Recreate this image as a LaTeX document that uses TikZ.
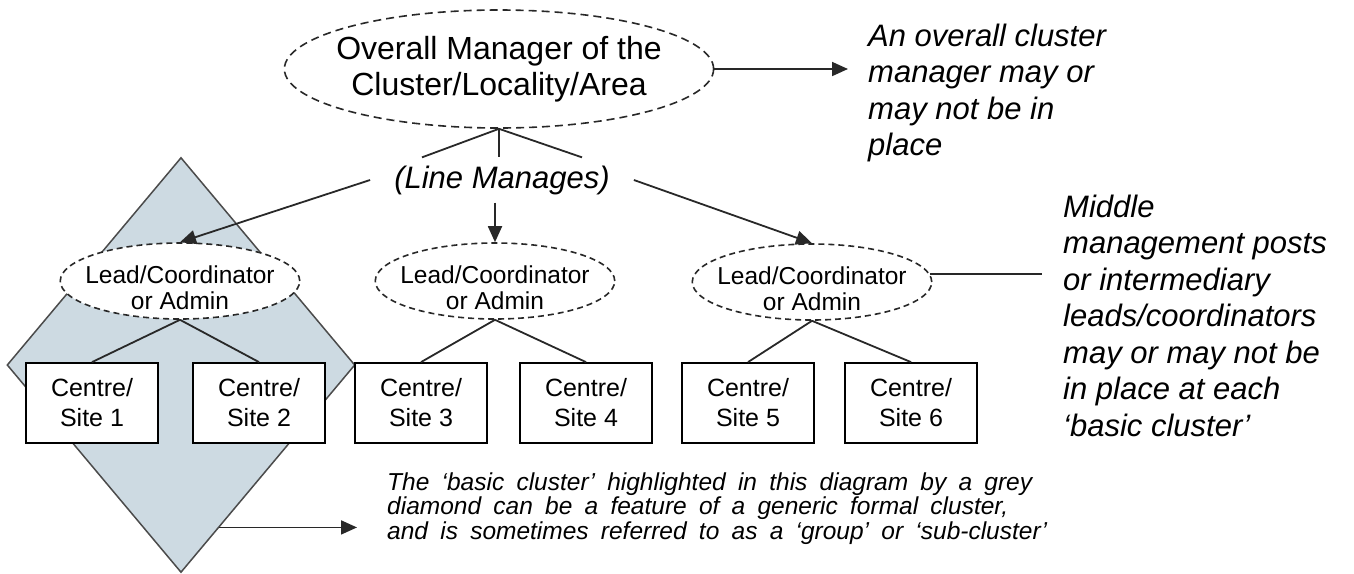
\documentclass[tikz,border=0pt]{standalone}
\usepackage{fontspec}
\setmainfont{Liberation Sans}
\newfontfamily\widenotefont[WordSpace=1.8]{Liberation Sans}
\usetikzlibrary{shapes.geometric,arrows.meta,calc}
\definecolor{clusterfill}{RGB}{205,218,226}
\definecolor{inkline}{RGB}{40,40,40}
\definecolor{diamondline}{RGB}{75,75,75}
% first-line strut that lowers the lead labels inside their ellipses
\newcommand{\leadstrut}{\rule{0pt}{32pt}}

\begin{document}
\begin{tikzpicture}[x=1pt,y=-1pt,
  manager/.style={ellipse, draw=inkline, fill=white, line width=1.6pt,
    dash pattern=on 8pt off 5pt, align=center},
  topmanager/.style={manager, inner xsep=-11pt, inner ysep=4pt,
    minimum width=428pt, minimum height=118pt,
    font=\fontsize{32}{36}\selectfont},
  leadmanager/.style={manager, dash pattern=on 6pt off 4pt,
    inner xsep=-10pt, inner ysep=-3pt,
    minimum width=238pt, minimum height=76pt,
    font=\fontsize{24.5}{26}\selectfont},
  sitebox/.style={draw=black, fill=white, line width=1.8pt, minimum width=132pt,
    minimum height=80pt, inner sep=0pt, align=center,
    font=\fontsize{25}{30}\selectfont},
  link/.style={draw=inkline, line width=1.8pt},
  arrowlink/.style={link, -{Triangle[length=16pt,width=14pt]}},
  note/.style={anchor=north west, inner sep=0pt, align=left,
    font=\fontsize{31}{36.5}\selectfont\itshape},
  smallnote/.style={anchor=north west, inner sep=0pt, align=left,
    font=\widenotefont\fontsize{24.5}{24.5}\selectfont\itshape}
]
\useasboundingbox (0,0) rectangle (1354,573);

% grey diamond marking one basic cluster
\node[diamond, draw=diamondline, fill=clusterfill, line width=1.5pt,
  minimum width=348pt, minimum height=415pt, inner sep=0pt] (cluster) at (181,365) {};

% overall manager and its label
\node[topmanager] (top) at (499,69) {Overall Manager of the\\Cluster/Locality/Area};
\node[inner xsep=24pt, inner ysep=8pt, font=\fontsize{31}{36}\selectfont\itshape]
  (lm) at (502,180) {(Line Manages)};

% leads / coordinators
\node[leadmanager] (lead1) at (180,281) {\leadstrut Lead/Coordinator\\or Admin};
\node[leadmanager] (lead2) at (495,281) {\leadstrut Lead/Coordinator\\or Admin};
\node[leadmanager] (lead3) at (812,282) {\leadstrut Lead/Coordinator\\or Admin};

% centres / sites
\node[sitebox] (s1) at (92,403)  {Centre/\\Site 1};
\node[sitebox] (s2) at (259,403) {Centre/\\Site 2};
\node[sitebox] (s3) at (421,403) {Centre/\\Site 3};
\node[sitebox] (s4) at (586,403) {Centre/\\Site 4};
\node[sitebox] (s5) at (748,403) {Centre/\\Site 5};
\node[sitebox] (s6) at (911,403) {Centre/\\Site 6};

% explanatory notes
\node[note] (tnote) at (868,23.8) {An overall cluster\\manager may or\\may not be in\\place};
\node[note] (mnote) at (1063,194.8) {Middle\\management posts\\or intermediary\\leads/coordinators\\may or may not be\\in place at each\\‘basic cluster’};
\node[smallnote] (bnote) at (387,472.5) {The ‘basic cluster’ highlighted in this diagram by a grey\\diamond can be a feature of a generic formal cluster,\\and is sometimes referred to as a ‘group’ or ‘sub-cluster’};

% line management links
\draw[link] (top.south) -- ($(lm.north)+(-80,0)$);
\draw[link] (top.south) -- (top.south |- lm.north);
\draw[link] (top.south) -- ($(lm.north)+(80,0)$);
\draw[arrowlink] (lm.west) -- (lead1.north);
\draw[arrowlink] (lm.south -| lead2.north) -- (lead2.north);
\draw[arrowlink] (lm.east) -- (lead3.north);

% leads to their sites
\draw[link] (lead1.south) -- (s1.north);
\draw[link] (lead1.south) -- (s2.north);
\draw[link] (lead2.south) -- (s3.north);
\draw[link] (lead2.south) -- (s4.north);
\draw[link] (lead3.south) -- (s5.north);
\draw[link] (lead3.south) -- (s6.north);

% pointers to the notes
\draw[arrowlink] (top.east) -- ([xshift=-20pt]top.east -| tnote.west);
\draw[link] (lead3.4) -- ([xshift=-21pt]lead3.4 -| mnote.west);
\coordinate (dout) at ($(cluster.east)!0.78!(cluster.south)$);
\draw[arrowlink] (dout) -- ([xshift=-30pt]dout -| bnote.west);
\end{tikzpicture}
\end{document}
